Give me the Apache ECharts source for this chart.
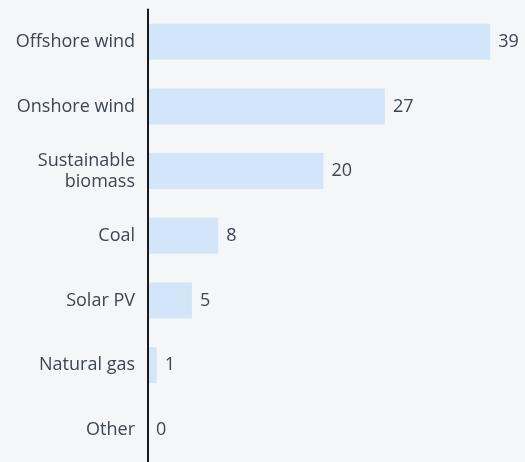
<!DOCTYPE html>
<html><head><meta charset="utf-8">
<script src="https://cdn.jsdelivr.net/npm/echarts@6/dist/echarts.min.js"></script>
<style>html,body{margin:0;padding:0;background:#f5f6f8;}#c{width:525px;height:462px;}</style>
</head><body><div id="c"></div>
<script>
const categories = ["Offshore wind", "Onshore wind", "Sustainable\nbiomass", "Coal", "Solar PV", "Natural gas", "Other"];
const values = [39, 27, 20, 8, 5, 1, 0];

const chart = echarts.init(document.getElementById('c'));
const textColor = '#3b4656';
const font = 'Open Sans';
chart.setOption({
  backgroundColor: '#f5f6f8',
  animation: false,
  grid: { left: 148, width: 351, top: 9.5, height: 455, containLabel: false },
  xAxis: { type: 'value', min: 0, max: 40, show: false },
  yAxis: {
    type: 'category', data: categories, inverse: true, z: 5,
    axisLine: { show: true, lineStyle: { color: '#1a1a1a', width: 2 } },
    axisTick: { show: false },
    axisLabel: { color: textColor, fontSize: 18, fontFamily: font, margin: 13, lineHeight: 21, align: 'right', padding: [2, 0, 0, 0] }
  },
  series: [{
    type: 'bar', data: values, barWidth: 36, z: 2,
    itemStyle: { color: '#d3e5f9' },
    label: { show: true, position: 'right', distance: 8, color: textColor, fontSize: 18, fontFamily: font, padding: [2, 0, 0, 0] }
  }]
});
</script></body></html>
